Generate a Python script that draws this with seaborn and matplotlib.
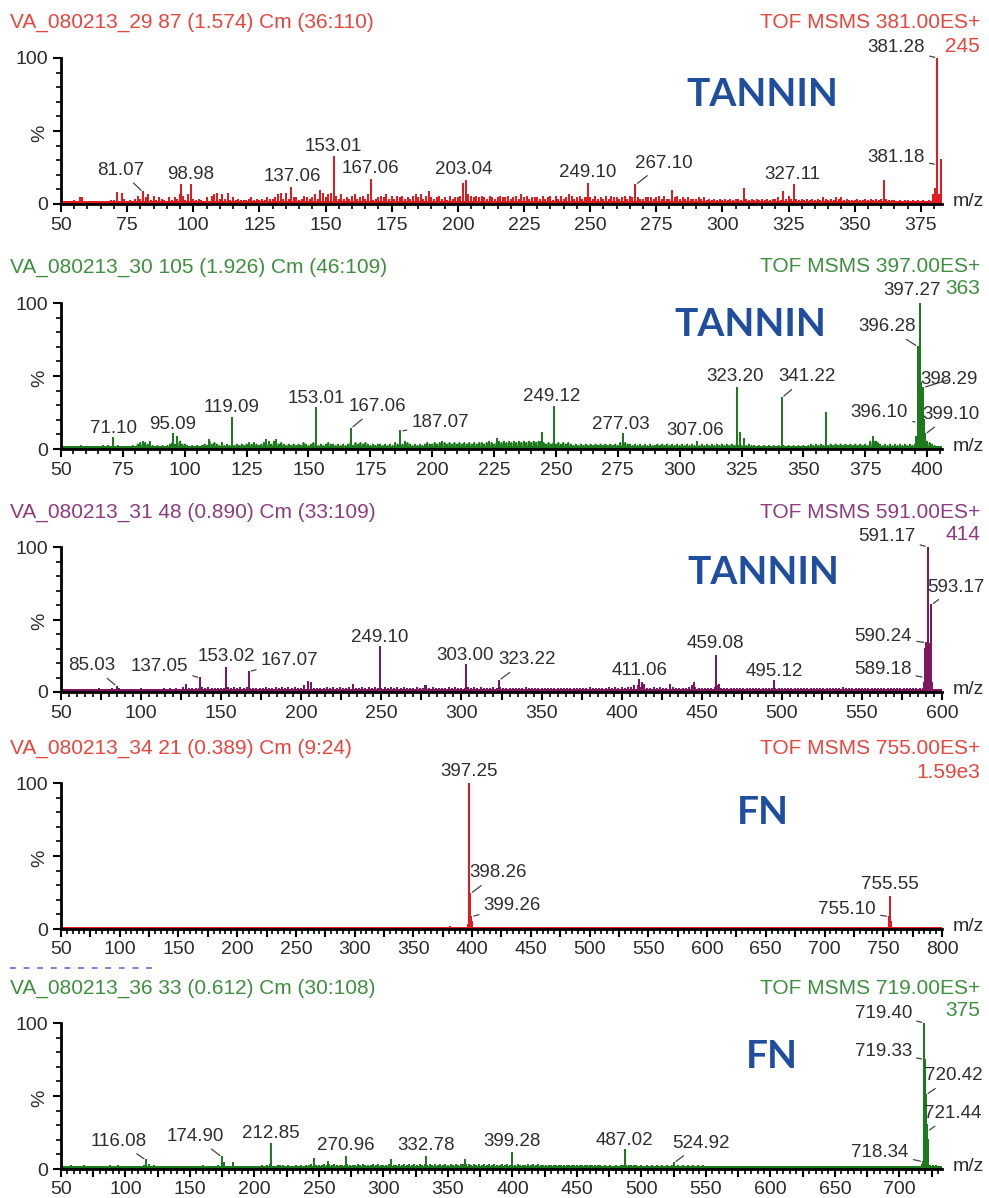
import numpy as np
import pandas as pd
import matplotlib
matplotlib.use("Agg")
import matplotlib.pyplot as plt
from matplotlib.ticker import MultipleLocator, FuncFormatter
from matplotlib.lines import Line2D
import seaborn as sns

# ---------------------------------------------------------------- data
titles = [
    "VA_080213_29 87 (1.574) Cm (36:110)",
    "VA_080213_30 105 (1.926) Cm (46:109)",
    "VA_080213_31 48 (0.890) Cm (33:109)",
    "VA_080213_34 21 (0.389) Cm (9:24)",
    "VA_080213_36 33 (0.612) Cm (30:108)",
]
functions = [
    "TOF MSMS 381.00ES+",
    "TOF MSMS 397.00ES+",
    "TOF MSMS 591.00ES+",
    "TOF MSMS 755.00ES+",
    "TOF MSMS 719.00ES+",
]
base_counts = ["245", "363", "414", "1.59e3", "375"]
classes = ["TANNIN", "TANNIN", "TANNIN", "FN", "FN"]
mz_ranges = [(50, 383), (50, 406), (50, 600), (50, 800), (50, 733)]

# labelled peaks (m/z, relative intensity %)
mz1 = [81.07, 98.98, 137.06, 153.01, 167.06, 203.04, 249.10, 267.10, 327.11, 381.18, 381.28]
int1 = [8, 13, 11, 32, 16.5, 16, 14, 13, 13, 27, 100]
mz2 = [71.10, 95.09, 119.09, 153.01, 167.06, 187.07, 249.12, 277.03, 307.06, 323.20,
       341.22, 396.10, 396.28, 397.27, 398.29, 399.10]
int2 = [7.5, 10, 21, 28, 14, 12, 29, 10, 5, 42, 35, 18, 70, 100, 42, 10]
mz3 = [85.03, 137.05, 153.02, 167.07, 249.10, 303.00, 323.22, 411.06, 459.08, 495.12,
       589.18, 590.24, 591.17, 593.17]
int3 = [3.7, 9.6, 16.8, 14, 31, 18.6, 7.8, 8, 25, 7.5, 10, 34, 100, 60]
mz4 = [397.25, 398.26, 399.26, 755.10, 755.55]
int4 = [100, 24, 8.4, 8.4, 22]
mz5 = [116.08, 174.90, 212.85, 270.96, 332.78, 399.28, 487.02, 524.92, 718.34, 719.33,
       719.40, 720.42, 721.44]
int5 = [6, 8, 17, 8.4, 8.4, 11, 13, 4, 5, 75, 100, 50.7, 25.6]

# unlabelled but visible peaks
minor_mz1 = [57, 71, 73, 95.5, 109, 133, 148, 189, 202, 281, 308, 323, 361, 379.6, 380.4, 382.5, 382.9]
minor_int1 = [4, 7.5, 7, 13, 7, 7, 9, 8, 14, 9, 10, 8, 16, 6, 10, 30, 15]
minor_mz2 = [83, 86, 97, 110, 133, 137, 226, 244.5, 324.5, 326, 359, 378, 379.5,
             395.6, 396.7, 397.6, 397.9, 398.6]
minor_int2 = [5, 5, 8, 6, 6, 6, 7, 11, 11, 7, 25, 8, 5, 8, 30, 45, 42, 20]
minor_mz3 = [128, 204, 206, 232, 277, 413, 414, 430, 445, 461, 588.6, 589.6, 589.9,
             590.5, 590.8, 591.5, 591.8, 592.1, 592.4, 594]
minor_int3 = [5, 7, 6, 5, 4, 6, 5, 5, 6, 5, 6, 30, 32, 34, 34, 34, 33, 32, 30, 6]
minor_mz4 = [381, 396.5, 397.6, 398.6, 399.6, 754.5, 755.8, 756.3, 757]
minor_int4 = [1.5, 3, 30, 18, 5, 4, 8, 5, 2]
minor_mz5 = [183, 246, 257, 306, 363, 717.5, 718.8, 719.8, 720.1, 720.8, 721.1, 721.8, 722.5]
minor_int5 = [4, 7, 5, 6, 6, 3, 40, 75, 60, 45, 30, 20, 5]

# baseline noise, one digit (percent) per step of m/z
grass1_start, grass1_step = 50, 1
grass1 = (
    "1010121041" "1011010112" "2717312135" "3646252432" "1424365262"
    "3232141563" "3637242322" "2342323243" "3465373244" "2354346357"
    "4673536343" "5634536423" "4546353545" "3435646356" "4345342534"
    "4575654545" "4354345445" "3453645344" "4353452535" "3465345344"
    "4353435354" "4345354343" "3444345353" "3945343433" "3434232323"
    "2323233273" "2323232323" "3425353232" "3232323243" "2324342322"
    "2322323232" "3232221212" "2121212121" "686"
)
grass2_start, grass2_step = 50, 1
grass2 = (
    "0101010121" "1010101212" "1212101012" "1343434212" "1212343453"
    "3212121232" "5343242323" "2323234343" "2343535434" "3232323243"
    "2343232343" "3232323424" "3434323233" "2323243435" "4323232343"
    "3434543434" "3434343434" "4345434545" "4545454545" "4545543434"
    "3434343232" "3232323232" "3232324343" "3232323232" "2323232323"
    "2323232323" "2323232323" "2323225232" "2121212121" "2121212121"
    "2123232323" "2323232323" "2323232545" "4323232323" "2323232540"
    "543210"
)
grass3_start, grass3_step = 50, 2
grass3 = (
    "1111111111" "1121112121" "1111121111" "1121212132" "2222323222"
    "2232323232" "2222322323" "2323224332" "2223232322" "3422323232"
    "2323232322" "2322423222" "2323222323" "2322232322" "2222232222"
    "2222222222" "2222232222" "2323232334" "4322232322" "4322223432"
    "2222342222" "2222222222" "2222222222" "2222222222" "2222322222"
    "2222222222" "2222222222" "11111"
)
grass4_start, grass4_step = 50, 2
grass4 = "0" * 376
grass5_start, grass5_step = 50, 2
grass5 = (
    "1111211112" "1111111112" "1121111111" "1121312111" "1111111111"
    "1111121111" "1214111111" "1111111121" "2311222121" "1212122322"
    "2232323222" "2322232322" "2323222322" "2323232323" "2323232323"
    "2323233332" "3232323232" "2323232322" "2323232222" "2222222222"
    "2222222222" "1212121222" "2222121212" "1212121212" "1212121212"
    "1111111111" "1111111111" "1111111111" "1111111111" "1111111111"
    "1111111111" "1111111111" "1111111111" "1111122222" "1"
)

# ---------------------------------------------------------------- label layout
# (dx, dy) of each label centre from its peak top, in pixels; True = leader line
lay1 = [(-23, 22, True), (0, 11, False), (1, 11, False), (0, 11, False), (0, 11, False),
        (-2, 11, False), (0, 11, False), (28, 22, True), (-2, 11, False), (-41, 7, True),
        (-41, 10, True)]
lay2 = [(0, 10, False), (0, 10, False), (0, 11, False), (0, 10, False), (27, 22, True),
        (40, 9, True), (-2, 10, False), (-2, 10, False), (-2, 11, False), (-2, 11, False),
        (25, 21, True), (-38, 10, True), (-31, 20, True), (-8, 13, False), (26, 8, True),
        (26, 20, True)]
lay3 = [(-25, 21, True), (-41, 12, True), (0, 11, False), (41, 11, True), (0, 10, False),
        (-1, 10, False), (28, 21, True), (0, 10, False), (-1, 12, False), (0, 10, False),
        (-42, 8, True), (-43, 6, True), (-41, 11, True), (25, 18, True)]
lay4 = [(0, 11, False), (28, 21, True), (41, 11, True), (-42, 7, True), (0, 12, False)]
lay5 = [(-28, 19, True), (-27, 21, True), (0, 11, False), (0, 11, False), (0, 11, False),
        (0, 11, False), (0, 10, False), (27, 20, True), (-43, 9, True), (-41, 8, True),
        (-41, 10, True), (28, 19, True), (26, 18, True)]

panels = [
    dict(mz=mz1, inten=int1, mmz=minor_mz1, mint=minor_int1, grass=grass1,
         g0=grass1_start, gs=grass1_step, lay=lay1),
    dict(mz=mz2, inten=int2, mmz=minor_mz2, mint=minor_int2, grass=grass2,
         g0=grass2_start, gs=grass2_step, lay=lay2),
    dict(mz=mz3, inten=int3, mmz=minor_mz3, mint=minor_int3, grass=grass3,
         g0=grass3_start, gs=grass3_step, lay=lay3),
    dict(mz=mz4, inten=int4, mmz=minor_mz4, mint=minor_int4, grass=grass4,
         g0=grass4_start, gs=grass4_step, lay=lay4),
    dict(mz=mz5, inten=int5, mmz=minor_mz5, mint=minor_int5, grass=grass5,
         g0=grass5_start, gs=grass5_step, lay=lay5),
]

# ---------------------------------------------------------------- style
sns.set_style("ticks")
plt.rcParams["font.family"] = ["Liberation Sans", "DejaVu Sans"]

W, H = 989, 1198
fig = plt.figure(figsize=(W / 100, H / 100), dpi=100)
fig.patch.set_facecolor("white")

def fx(px):
    return px / W

def fy(py):
    return 1 - py / H

spec_colors = ["#e21b1f", "#1d7a1d", "#7c1760", "#e21b1f", "#1b7a1b"]
text_colors = ["#e8453d", "#3d8f3d", "#8e3b80", "#e8453d", "#3d8f3d"]
label_color = "#2e2e2e"
class_color = "#1f4e9e"

axis_left, axis_right = 61, 942
axis_rows = [(58, 204), (303, 449), (547, 692), (783, 929), (1023, 1169)]
title_y = [22, 267, 512, 748, 988]
count_y = [47, 289, 535, 772, 1010]
class_pos = [(762, 94), (750, 325), (763, 573), (763, 812), (772, 1057)]
base_band = [2.2, 2.0, 2.4, 1.2, 2.2]
major_step = [25, 25, 25, 25, 25]
label_step = [25, 25, 50, 50, 50]


def sticks(mz, inten):
    mz = np.asarray(mz, float)
    inten = np.asarray(inten, float)
    z = np.zeros_like(mz)
    xs = np.repeat(mz, 3)
    ys = np.column_stack([z, inten, z]).ravel()
    return pd.DataFrame({"mz": xs, "pct": ys})


for i, p in enumerate(panels):
    top, bot = axis_rows[i]
    ax = fig.add_axes([fx(axis_left), fy(bot), (axis_right - axis_left) / W, (bot - top) / H])
    lo, hi = mz_ranges[i]
    col = spec_colors[i]

    # baseline noise
    g = np.array([int(c) for c in p["grass"]], float)
    gx = p["g0"] + p["gs"] * np.arange(len(g))
    keep = (gx >= lo) & (gx <= hi) & (g > 0)
    if keep.any():
        sns.lineplot(data=sticks(gx[keep], g[keep]), x="mz", y="pct", sort=False,
                     estimator=None, color=col, lw=1.3, ax=ax)
    ax.fill_between([lo, hi], 0, base_band[i], color=col, lw=0)

    # minor and labelled peaks
    sns.lineplot(data=sticks(p["mmz"], p["mint"]), x="mz", y="pct", sort=False,
                 estimator=None, color=col, lw=1.2, ax=ax)
    sns.lineplot(data=sticks(p["mz"], p["inten"]), x="mz", y="pct", sort=False,
                 estimator=None, color=col, lw=1.3, ax=ax)

    for m, v, (dx, dy, lead) in zip(p["mz"], p["inten"], p["lay"]):
        kw = {}
        if lead:
            kw["arrowprops"] = dict(arrowstyle="-", color="#444444", lw=0.9,
                                    shrinkA=1, shrinkB=2)
        ax.annotate(f"{m:.2f}", xy=(m, v), xytext=(dx, dy), textcoords="offset pixels",
                    ha="center", va="center", fontsize=13.5, color=label_color,
                    annotation_clip=False, **kw)

    ax.set_xlim(lo, hi)
    ax.set_ylim(0, 100)
    ax.set_xlabel("")
    ax.set_ylabel("")
    sns.despine(ax=ax)
    for side in ("left", "bottom"):
        ax.spines[side].set_linewidth(2.0)
        ax.spines[side].set_color("black")

    ax.xaxis.set_major_locator(MultipleLocator(major_step[i]))
    ax.xaxis.set_minor_locator(MultipleLocator(5))
    step = label_step[i]
    ax.xaxis.set_major_formatter(FuncFormatter(
        lambda v, pos, s=step: f"{v:.0f}" if abs(v / s - round(v / s)) < 1e-6 else ""))
    ax.set_yticks([0, 50, 100])
    ax.set_yticklabels(["0", "%", "100"])
    ax.yaxis.set_minor_locator(MultipleLocator(10))
    ax.get_yticklabels()[1].set_rotation(90)
    ax.tick_params(axis="both", which="major", length=6, width=1.5, color="black",
                   labelsize=14, labelcolor="#2b2b2b", pad=3)
    ax.tick_params(axis="both", which="minor", length=3.5, width=1.2, color="black")
    ax.set_facecolor("none")

    ax.text(1.012, 0.02, "m/z", transform=ax.transAxes, ha="left", va="center",
            fontsize=14, color="#2b2b2b")

    # header texts
    fig.text(fx(10), fy(title_y[i]), titles[i], ha="left", va="center",
             fontsize=15, color=text_colors[i])
    fig.text(fx(980), fy(title_y[i]), functions[i], ha="right", va="center",
             fontsize=15, color=text_colors[i])
    fig.text(fx(980), fy(count_y[i]), base_counts[i], ha="right", va="center",
             fontsize=15, color=text_colors[i])
    cx, cy = class_pos[i]
    fig.text(fx(cx), fy(cy), classes[i], ha="center", va="center", fontsize=28,
             fontweight="bold", family=["Lato", "DejaVu Sans"], color=class_color)

# clipped trace of text above the last panel
fig.add_artist(Line2D([fx(10), fx(155)], [fy(968), fy(968)], transform=fig.transFigure,
                      color="#7f7fd6", lw=1.4, ls=(0, (3, 4))))

fig.savefig("out.png", dpi=100, facecolor="white")
